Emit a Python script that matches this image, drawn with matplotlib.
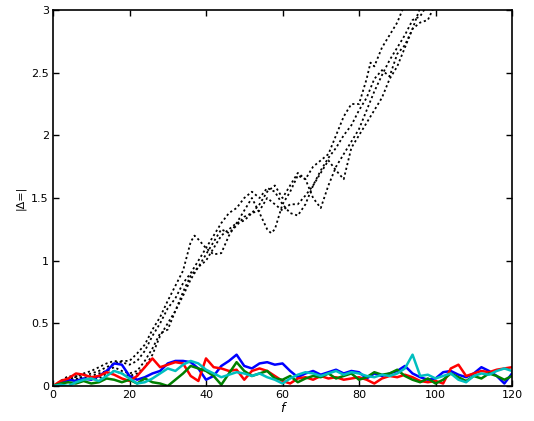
import matplotlib
matplotlib.use("Agg")
import matplotlib.pyplot as plt
import numpy as np

# black dotted curves (|Δ| growth)
t_k1 = [0,2,4,6,8,10,12,14,16,18,20,22,24,26,28,30,32,34,36,37,38,40,42,44,46,48,50,52,54,56,57,58,60,62,64,66,68,70,72,74,76,78,80,82,83,84,86,88,90,92]
v_k1 = [0,0.03,0.06,0.05,0.08,0.1,0.12,0.15,0.18,0.2,0.2,0.26,0.33,0.45,0.55,0.68,0.8,0.92,1.15,1.2,1.17,1.1,1.05,1.06,1.2,1.3,1.4,1.5,1.38,1.25,1.22,1.25,1.45,1.55,1.68,1.65,1.75,1.8,1.85,2.0,2.15,2.25,2.25,2.45,2.58,2.55,2.7,2.8,2.9,3.05]

t_k2 = [0,2,4,6,8,10,12,14,16,18,20,22,24,26,28,30,32,34,36,38,40,42,44,46,48,50,52,54,56,58,60,62,64,66,68,70,72,74,76,78,80,82,84,86,88,90,92,94,96]
v_k2 = [0,0.04,0.08,0.07,0.1,0.12,0.15,0.18,0.2,0.19,0.17,0.2,0.28,0.4,0.5,0.62,0.7,0.82,0.9,1.0,1.1,1.2,1.3,1.38,1.42,1.5,1.55,1.5,1.58,1.55,1.45,1.38,1.36,1.45,1.6,1.72,1.82,1.9,2.0,2.08,2.2,2.3,2.45,2.52,2.47,2.65,2.72,2.85,3.02]

t_k3 = [0,2,4,6,8,10,12,14,16,18,20,22,24,26,28,30,32,34,36,38,40,42,44,46,48,50,52,54,56,58,60,62,64,66,68,70,72,74,76,78,80,82,84,86,88,90,92,94,96,98]
v_k3 = [0,0.02,0.05,0.08,0.06,0.08,0.1,0.12,0.15,0.12,0.1,0.12,0.2,0.3,0.42,0.45,0.6,0.72,0.85,0.95,1.05,1.15,1.25,1.22,1.28,1.35,1.38,1.45,1.55,1.6,1.5,1.6,1.7,1.65,1.5,1.42,1.6,1.75,1.85,1.95,2.05,2.2,2.35,2.48,2.6,2.7,2.8,2.92,2.95,3.05]

t_k4 = [0,2,4,6,8,10,12,14,16,18,20,22,24,26,28,30,32,34,36,38,40,42,44,46,48,50,52,54,56,58,60,62,64,66,68,70,72,74,76,78,80,82,84,86,88,90,92,94,96,98,100]
v_k4 = [0,0.03,0.04,0.06,0.05,0.07,0.06,0.1,0.12,0.1,0.08,0.1,0.15,0.25,0.4,0.5,0.6,0.75,0.88,0.95,1.0,1.1,1.2,1.25,1.3,1.32,1.38,1.4,1.5,1.45,1.4,1.45,1.45,1.52,1.6,1.7,1.8,1.72,1.65,1.9,2.0,2.1,2.2,2.3,2.45,2.55,2.7,2.85,2.9,2.92,3.05]

# coloured solid curves (small fluctuations)
t_c = list(range(0, 121, 2))
v_blue = [0.0,0.02,0.05,0.04,0.06,0.05,0.08,0.12,0.18,0.17,0.08,0.05,0.07,0.1,0.12,0.18,0.2,0.2,0.19,0.14,0.05,0.08,0.16,0.2,0.25,0.16,0.14,0.18,0.19,0.17,0.18,0.12,0.07,0.1,0.12,0.09,0.11,0.13,0.1,0.12,0.11,0.06,0.1,0.08,0.1,0.12,0.16,0.1,0.07,0.05,0.06,0.11,0.12,0.09,0.07,0.1,0.15,0.12,0.08,0.02,0.1]
v_red = [0.0,0.04,0.06,0.1,0.09,0.07,0.08,0.11,0.09,0.06,0.04,0.08,0.15,0.22,0.15,0.17,0.19,0.18,0.08,0.04,0.22,0.15,0.14,0.12,0.13,0.05,0.12,0.14,0.12,0.08,0.04,0.02,0.06,0.07,0.05,0.08,0.06,0.07,0.05,0.06,0.07,0.05,0.02,0.06,0.08,0.07,0.09,0.07,0.04,0.03,0.04,0.02,0.14,0.17,0.08,0.1,0.12,0.11,0.13,0.14,0.15]
v_green = [0.0,0.02,0.03,0.02,0.04,0.02,0.03,0.06,0.05,0.03,0.05,0.02,0.06,0.03,0.02,0.0,0.05,0.1,0.16,0.14,0.12,0.08,0.01,0.1,0.19,0.12,0.08,0.1,0.12,0.06,0.05,0.08,0.03,0.06,0.08,0.07,0.1,0.06,0.08,0.1,0.05,0.07,0.11,0.09,0.1,0.13,0.08,0.05,0.03,0.06,0.02,0.05,0.1,0.07,0.04,0.08,0.06,0.1,0.08,0.05,0.08]
v_cyan = [0.0,0.01,0.0,0.03,0.05,0.06,0.04,0.08,0.12,0.1,0.06,0.02,0.03,0.06,0.1,0.14,0.12,0.17,0.2,0.18,0.13,0.1,0.07,0.09,0.11,0.1,0.08,0.1,0.07,0.05,0.02,0.06,0.09,0.11,0.1,0.08,0.1,0.12,0.09,0.11,0.1,0.08,0.07,0.09,0.08,0.1,0.14,0.25,0.08,0.09,0.06,0.08,0.1,0.05,0.03,0.08,0.1,0.09,0.12,0.14,0.12]

x_ticks = [0, 20, 40, 60, 80, 100, 120]
y_ticks = [0, 0.5, 1, 1.5, 2, 2.5, 3]
y_ticklabels = ["0", "0.5", "1", "1.5", "2", "2.5", "3"]

fig = plt.figure(figsize=(5.34, 4.21), dpi=100)
ax = fig.add_axes([53/534, 35/421, 459/534, 376/421])

for tt, vv in [(t_k1, v_k1), (t_k2, v_k2), (t_k3, v_k3), (t_k4, v_k4)]:
    ax.plot(tt, vv, color="black", linestyle=(0, (1.2, 1.5)), linewidth=1.3)

ax.plot(t_c, v_blue, color="#0000ff", linewidth=1.8)
ax.plot(t_c, v_red, color="#ff0000", linewidth=1.8)
ax.plot(t_c, v_green, color="#008000", linewidth=1.8)
ax.plot(t_c, v_cyan, color="#00bfbf", linewidth=1.8)

ax.set_xlim(0, 120)
ax.set_ylim(0, 3)
ax.set_xticks(x_ticks)
ax.set_xticklabels([str(v) for v in x_ticks])
ax.set_yticks(y_ticks)
ax.set_yticklabels(y_ticklabels)
ax.tick_params(direction="in", top=True, right=True, length=4, width=1, labelsize=8, pad=3)
for s in ax.spines.values():
    s.set_linewidth(1.2)
ax.set_xlabel("f", fontsize=9, style="italic", labelpad=1)
ax.set_ylabel("|Δ=|", fontsize=8, labelpad=4)

fig.savefig("out.png", dpi=100)
